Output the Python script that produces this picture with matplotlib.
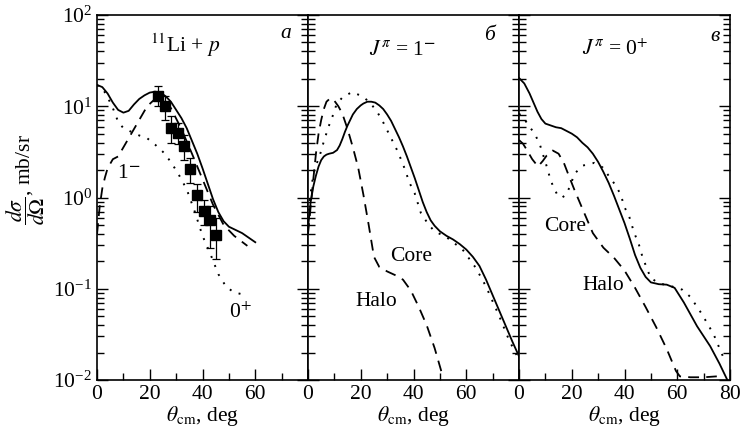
import matplotlib
matplotlib.use("Agg")
import matplotlib.pyplot as plt
from matplotlib.ticker import LogLocator, MultipleLocator, NullFormatter
import numpy as np

plt.rcParams['font.family'] = ['Liberation Serif', 'DejaVu Serif']
plt.rcParams['mathtext.fontset'] = 'stix'

# panel a: 11Li + p, total / 1- / 0+
a_solid_x = [0, 2, 4, 6, 8, 10, 12, 14, 16, 18, 20, 22, 24, 26, 28, 30, 32, 34, 36, 38, 40,
             42, 44, 46, 48, 50, 55, 60]
a_solid_log = [1.234, 1.21, 1.14, 1.04, 0.96, 0.93, 0.95, 1.02, 1.08, 1.12, 1.15, 1.16, 1.15,
               1.11, 1.05, 0.96, 0.87, 0.76, 0.62, 0.48, 0.32, 0.15, -0.02, -0.16, -0.26, -0.32,
               -0.39, -0.49]
a_dash_x = [0, 1, 2, 3, 4, 6, 8, 10, 13, 16, 19, 22, 25, 28, 32, 36, 40, 44, 48, 52, 57]
a_dash_log = [-0.4, -0.1, 0.1, 0.22, 0.32, 0.42, 0.45, 0.55, 0.7, 0.85, 1.0, 1.08, 1.08, 0.98,
              0.75, 0.48, 0.2, -0.08, -0.3, -0.42, -0.53]
a_dot_x = [0, 2, 4, 6, 8, 10, 13, 16, 19, 22, 25, 28, 31, 34, 37, 40, 43, 46, 49, 52, 55]
a_dot_log = [1.23, 1.2, 1.1, 0.98, 0.83, 0.76, 0.72, 0.68, 0.65, 0.58, 0.5, 0.39, 0.25, 0.09,
             -0.15, -0.42, -0.62, -0.84, -0.98, -1.04, -1.06]

exp_x = [23.1, 25.7, 28.2, 30.7, 33.0, 35.4, 38.0, 40.4, 42.9, 45.2]
exp_y = [13.0, 10.0, 5.75, 5.1, 3.7, 2.05, 1.07, 0.72, 0.56, 0.39]
exp_hi = [16.6, 12.8, 7.8, 6.5, 4.8, 2.7, 1.4, 0.95, 0.8, 0.59]
exp_lo = [10.0, 7.1, 4.0, 3.9, 2.6, 1.45, 0.7, 0.5, 0.28, 0.21]

# panel b: J = 1-, total / halo / core
b_solid_x = [0, 1, 2, 3, 4, 5, 6, 7, 8, 9.5, 11, 12, 13, 14, 15, 16, 17, 18.5, 20, 21, 22.5,
             24, 25.5, 27, 28.5, 30, 31.5, 33, 34.5, 36, 37.5, 39, 40.5, 42, 43.5, 45, 46.5,
             48, 50, 52.5, 55, 57.5, 60, 62.5, 65, 67.5, 70, 72.5, 75, 77.5, 80]
b_solid_log = [-0.33, -0.05, 0.12, 0.24, 0.34, 0.41, 0.45, 0.47, 0.48, 0.49, 0.52, 0.57, 0.64,
               0.72, 0.79, 0.85, 0.91, 0.97, 1.01, 1.03, 1.05, 1.05, 1.04, 1.01, 0.97, 0.91,
               0.84, 0.75, 0.66, 0.56, 0.45, 0.33, 0.21, 0.08, -0.05, -0.16, -0.25, -0.31,
               -0.37, -0.42, -0.46, -0.51, -0.57, -0.65, -0.75, -0.9, -1.07, -1.24, -1.41,
               -1.58, -1.74]
b_halo_x = [0, 1, 2, 3, 4, 5, 6, 7, 8.5, 10, 11.5, 13, 15, 17, 19, 21, 23, 25, 27, 30, 33, 36,
            39, 42, 45, 48, 51]
b_halo_log = [-0.4, -0.1, 0.2, 0.48, 0.7, 0.85, 0.97, 1.05, 1.09, 1.06, 1.0, 0.92, 0.75, 0.55,
              0.33, 0.03, -0.3, -0.65, -0.76, -0.81, -0.85, -0.9, -1.02, -1.2, -1.4, -1.65, -1.95]
b_core_x = [0, 1, 2, 3, 4.2, 5.2, 6.4, 7.7, 9.3, 10.8, 13.1, 16.7, 20.6, 23.5, 26.2, 28.4, 30.3,
            32.2, 34.1, 36.6, 38.5, 40.4, 42.8, 45.3, 47.9, 52.3, 58.6, 63.6, 67.4, 72.5, 76.2, 80]
b_core_log = [-0.25, 0.05, 0.25, 0.36, 0.43, 0.54, 0.65, 0.77, 0.89, 1.02, 1.1, 1.155, 1.11,
              1.04, 0.94, 0.83, 0.72, 0.61, 0.5, 0.32, 0.16, 0.05, -0.17, -0.28, -0.37, -0.43,
              -0.57, -0.77, -0.97, -1.3, -1.56, -1.78]

# panel c: J = 0+, total / halo / core
c_solid_x = [0, 2, 4, 5.5, 7, 8.5, 10, 12, 14, 16, 18, 20, 22, 24, 26, 28, 30, 32, 34, 36, 38,
             40, 42, 44, 46, 48, 50, 53, 56, 59, 62.5, 65, 67.5, 70, 72.5, 76, 79]
c_solid_log = [1.31, 1.25, 1.14, 1.04, 0.94, 0.86, 0.81, 0.79, 0.77, 0.76, 0.73, 0.70, 0.66,
               0.60, 0.55, 0.48, 0.39, 0.28, 0.16, 0.02, -0.13, -0.28, -0.45, -0.63, -0.77,
               -0.87, -0.93, -0.95, -0.955, -0.99, -1.15, -1.28, -1.41, -1.52, -1.63, -1.82,
               -2.0]
c_halo_x = [0, 1.5, 3, 5, 7.2, 9, 10.5, 12.8, 15, 17, 19, 21, 24, 28, 32, 36, 40, 44, 48, 52,
            56, 59.5, 61, 65, 70, 75]
c_halo_log = [0.63, 0.59, 0.52, 0.42, 0.34, 0.40, 0.46, 0.515, 0.48, 0.38, 0.23, 0.085, -0.12,
              -0.39, -0.55, -0.66, -0.8, -0.99, -1.2, -1.42, -1.66, -1.9, -1.96, -1.97, -1.97,
              -1.96]
c_core_x = [0, 2, 3.4, 5.9, 7.8, 10.3, 11.6, 12.8, 14.7, 16.3, 17.9, 19.7, 21, 24.2, 28.6, 31.7,
            34.2, 36.7, 38.6, 39.9, 41.8, 43.6, 45.5, 46.8, 48.4, 49.9, 53, 57.5, 61.9, 65,
            69.4, 73.8, 77, 78.5]
c_core_log = [0.92, 0.86, 0.80, 0.70, 0.59, 0.36, 0.23, 0.13, 0.02, 0.0, 0.03, 0.15, 0.26, 0.35,
              0.38, 0.33, 0.23, 0.13, 0.03, -0.1, -0.21, -0.38, -0.52, -0.65, -0.77, -0.88,
              -0.94, -0.97, -1.01, -1.09, -1.28, -1.5, -1.72, -1.8]


def p10(v):
    return 10.0 ** np.array(v)


def style_axis(ax, xticks):
    ax.set_yscale('log')
    ax.set_ylim(1e-2, 1e2)
    ax.set_xlim(0, 80)
    ax.set_xticks(xticks)
    ax.xaxis.set_minor_locator(MultipleLocator(10))
    ax.yaxis.set_major_locator(LogLocator(base=10, numticks=10))
    ax.yaxis.set_minor_locator(LogLocator(base=10, subs=np.arange(2, 10), numticks=10))
    ax.yaxis.set_minor_formatter(NullFormatter())
    ax.tick_params(which='both', direction='in', left=True, right=True, top=False,
                   labelsize=15.5, width=1.0)
    ax.tick_params(which='major', length=8)
    ax.tick_params(which='minor', length=5)
    for s in ax.spines.values():
        s.set_linewidth(1.2)
    ax.set_xlabel(r'$\theta_{\rm cm}$, deg', fontsize=15.5, labelpad=0)


fig, axes = plt.subplots(1, 3, figsize=(7.43, 4.34), dpi=100, sharey=True)
fig.subplots_adjust(left=0.1306, right=0.9825, bottom=0.1244, top=0.9654, wspace=0)

lw = 1.3
dash = (0, (6, 4))
dots = (0, (1, 4))

ax = axes[0]
ax.plot(a_solid_x, p10(a_solid_log), 'k-', lw=lw)
ax.plot(a_dash_x, p10(a_dash_log), color='k', ls=dash, lw=lw)
ax.plot(a_dot_x, p10(a_dot_log), color='k', ls=dots, lw=1.4)
yerr = [np.array(exp_y) - np.array(exp_lo), np.array(exp_hi) - np.array(exp_y)]
ax.errorbar(exp_x, exp_y, yerr=yerr, fmt='s', color='k', ms=7, capsize=3, elinewidth=0.9,
            capthick=0.9)
style_axis(ax, [0, 20, 40, 60])
ax.set_ylabel(r'$\dfrac{d\sigma}{d\Omega}$, mb/sr', fontsize=15.5)
ax.yaxis.set_label_coords(-0.235, 0.55)
ax.text(0.42, 0.918, r'$^{11}$Li + $p$', transform=ax.transAxes, fontsize=15.5,
        ha='center', va='center')
ax.text(0.895, 0.95, 'а', transform=ax.transAxes, fontsize=15.5, style='italic',
        ha='center', va='center')
ax.text(0.15, 0.567, r'1$^{\mathbf{-}}$', transform=ax.transAxes, fontsize=15.5,
        ha='center', va='center')
ax.text(0.68, 0.184, r'0$^{+}$', transform=ax.transAxes, fontsize=15.5,
        ha='center', va='center')

ax = axes[1]
ax.plot(b_solid_x, p10(b_solid_log), 'k-', lw=lw)
ax.plot(b_halo_x, p10(b_halo_log), color='k', ls=dash, lw=lw)
ax.plot(b_core_x, p10(b_core_log), color='k', ls=dots, lw=1.4)
style_axis(ax, [0, 20, 40, 60])
ax.text(0.446, 0.904, r'$J^{\pi}$ = 1$^{\mathbf{-}}$', transform=ax.transAxes, fontsize=15.5,
        ha='center', va='center')
ax.text(0.862, 0.945, 'б', transform=ax.transAxes, fontsize=15.5, style='italic',
        ha='center', va='center')
ax.text(0.487, 0.338, 'Core', transform=ax.transAxes, fontsize=15.5, ha='center', va='center')
ax.text(0.322, 0.215, 'Halo', transform=ax.transAxes, fontsize=15.5, ha='center', va='center')

ax = axes[2]
ax.plot(c_solid_x, p10(c_solid_log), 'k-', lw=lw)
ax.plot(c_halo_x, p10(c_halo_log), color='k', ls=dash, lw=lw)
ax.plot(c_core_x, p10(c_core_log), color='k', ls=dots, lw=1.4)
style_axis(ax, [0, 20, 40, 60, 80])
ax.text(0.458, 0.904, r'$J^{\pi}$ = 0$^{+}$', transform=ax.transAxes, fontsize=15.5,
        ha='center', va='center')
ax.text(0.928, 0.94, 'в', transform=ax.transAxes, fontsize=15.5, style='italic',
        ha='center', va='center')
ax.text(0.219, 0.42, 'Core', transform=ax.transAxes, fontsize=15.5, ha='center', va='center')
ax.text(0.40, 0.26, 'Halo', transform=ax.transAxes, fontsize=15.5, ha='center', va='center')

fig.savefig('out.png', dpi=100)
